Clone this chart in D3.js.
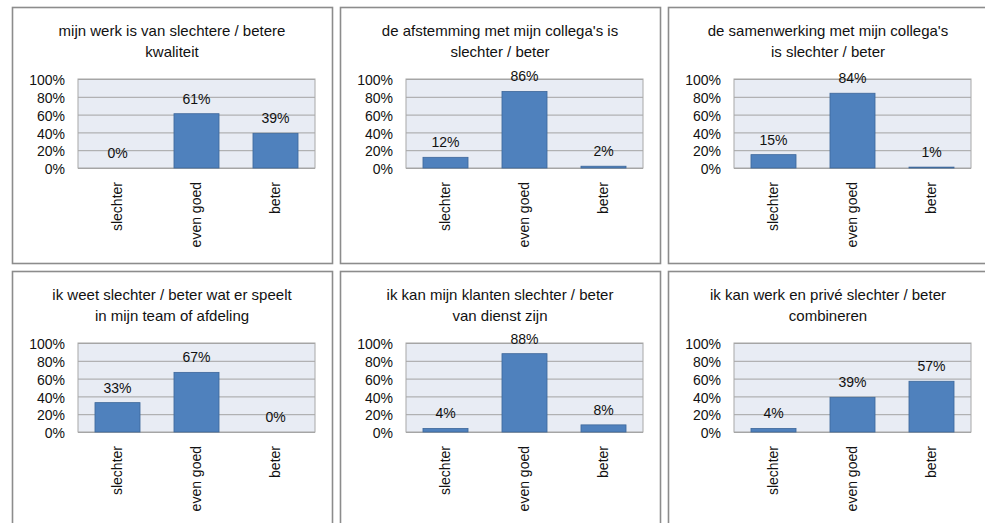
<!DOCTYPE html>
<html>
<head>
<meta charset="utf-8">
<script src="https://cdn.jsdelivr.net/npm/d3@7"></script>
<style>
  html, body { margin: 0; padding: 0; background: #fff; }
  svg { display: block; font-family: "Liberation Sans", Arial, sans-serif; }
</style>
</head>
<body>
<svg id="chart" width="985" height="523"></svg>
<script>
// Answer categories shared by every question
const categories = ["slechter", "even goed", "beter"];

// Question titles, two lines each
const titles = [
  ["mijn werk is van slechtere / betere", "kwaliteit"],
  ["de afstemming met mijn collega's is", "slechter / beter"],
  ["de samenwerking met mijn collega's", "is slechter  / beter"],
  ["ik weet slechter / beter wat er speelt", "in mijn team of afdeling"],
  ["ik kan mijn klanten slechter / beter", "van dienst zijn"],
  ["ik kan werk en privé slechter / beter", "combineren"]
];

// Share of answers per category (percent)
const werkKwaliteit   = [0, 61, 39];
const afstemming      = [12, 86, 2];
const samenwerking    = [15, 84, 1];
const weetWatSpeelt   = [33, 67, 0];
const klantenDienst   = [4, 88, 8];
const werkPrive       = [4, 39, 57];

// Y axis ticks
const yTicks = [0, 20, 40, 60, 80, 100];

const seriesList = [werkKwaliteit, afstemming, samenwerking, weetWatSpeelt, klantenDienst, werkPrive];

const svg = d3.select("#chart");

const panelW = 320, panelH = 256;
const panelX = [12, 340, 668];
const panelY = [7, 271];
const plot = { left: 66, top: 72, width: 237, height: 89 };

const x = d3.scaleBand()
  .domain(categories)
  .range([0, plot.width])
  .paddingInner(0.43)
  .paddingOuter(0.215);

const y = d3.scaleLinear().domain([0, 100]).range([plot.height, 0]);

seriesList.forEach((values, i) => {
  const px = panelX[i % 3], py = panelY[Math.floor(i / 3)];
  const g = svg.append("g").attr("transform", `translate(${px},${py})`);

  // panel frame
  g.append("rect")
    .attr("x", 0.5).attr("y", 0.5)
    .attr("width", panelW).attr("height", panelH)
    .attr("fill", "#fff")
    .attr("stroke", "#8c8c8c")
    .attr("stroke-width", 1.6);

  // title
  const t = g.append("text")
    .attr("text-anchor", "middle")
    .attr("font-size", 15)
    .attr("fill", "#111");
  titles[i].forEach((line, k) => {
    t.append("tspan")
      .attr("x", panelW / 2)
      .attr("y", 29 + k * 21)
      .text(line);
  });

  const pg = g.append("g").attr("transform", `translate(${plot.left},${plot.top})`);

  // plot background
  pg.append("rect")
    .attr("width", plot.width).attr("height", plot.height)
    .attr("fill", "#e8ecf4");

  // gridlines
  pg.append("g")
    .call(d3.axisLeft(y).tickValues(yTicks).tickSize(-plot.width).tickFormat(""))
    .call(a => a.select(".domain").remove())
    .call(a => a.selectAll("line").attr("stroke", "#a3a3a3").attr("stroke-width", 1));

  // plot outline
  pg.append("rect")
    .attr("width", plot.width).attr("height", plot.height)
    .attr("fill", "none")
    .attr("stroke", "#a8a8a8")
    .attr("stroke-width", 1);

  // y tick labels
  pg.append("g")
    .call(d3.axisLeft(y).tickValues(yTicks).tickSize(0).tickPadding(13)
      .tickFormat(d => d + "%"))
    .call(a => a.select(".domain").remove())
    .call(a => a.selectAll("text")
      .attr("font-size", 14)
      .attr("font-family", "'Liberation Sans', Arial, sans-serif")
      .attr("fill", "#111")
      .attr("dy", "0.4em"));

  // bars
  pg.selectAll("rect.bar")
    .data(values)
    .join("rect")
    .attr("class", "bar")
    .attr("x", (d, j) => x(categories[j]))
    .attr("y", d => y(d))
    .attr("width", x.bandwidth())
    .attr("height", d => plot.height - y(d))
    .attr("fill", "#4f81bd")
    .attr("stroke", d => d > 0 ? "#3d679a" : "none")
    .attr("stroke-width", 0.8);

  // value labels
  pg.selectAll("text.val")
    .data(values)
    .join("text")
    .attr("class", "val")
    .attr("x", (d, j) => x(categories[j]) + x.bandwidth() / 2)
    .attr("y", d => y(d) - 10)
    .attr("text-anchor", "middle")
    .attr("font-size", 14)
    .attr("fill", "#111")
    .text(d => d + "%");

  // rotated category labels
  pg.selectAll("text.cat")
    .data(categories)
    .join("text")
    .attr("class", "cat")
    .attr("transform", d => `translate(${x(d) + x.bandwidth() / 2},${plot.height + 14}) rotate(-90)`)
    .attr("text-anchor", "end")
    .attr("dy", "0.35em")
    .attr("font-size", 14)
    .attr("fill", "#111")
    .text(d => d);
});
</script>
</body>
</html>
